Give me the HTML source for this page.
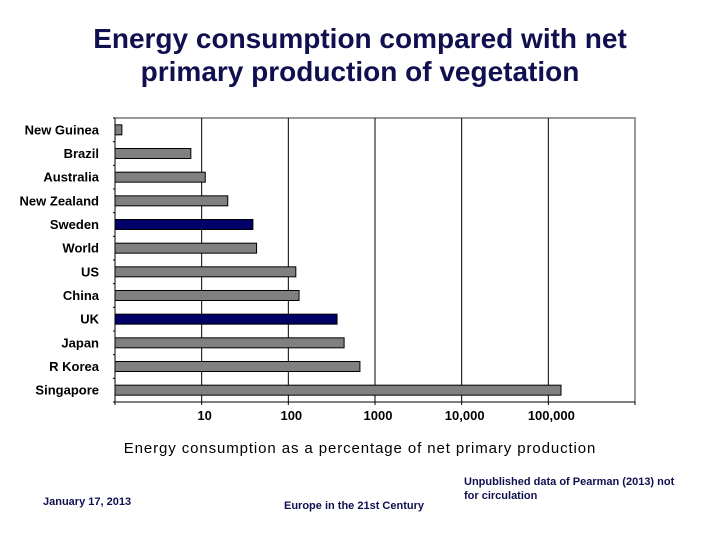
<!DOCTYPE html>
<html><head><meta charset="utf-8"><style>
body{margin:0;background:#fff;width:720px;height:540px;overflow:hidden;font-family:"Liberation Sans",Arial,sans-serif}
</style></head><body>
<svg width="720" height="540" xmlns="http://www.w3.org/2000/svg" font-family="Liberation Sans, Arial, sans-serif">
<text x="360" y="48" text-anchor="middle" font-size="28" font-weight="bold" fill="#101050">Energy consumption compared with net</text>
<text x="360" y="81" text-anchor="middle" font-size="28" font-weight="bold" fill="#101050">primary production of vegetation</text>
<g id="plot"></g>
<text x="360" y="453" text-anchor="middle" font-size="15" letter-spacing="0.9" fill="#000">Energy consumption as a percentage of net primary production</text>
<text x="43" y="505" font-size="11" font-weight="bold" fill="#101050">January 17, 2013</text>
<text x="284" y="509" font-size="11" font-weight="bold" fill="#101050">Europe in the 21st Century</text>
<text x="464" y="485" font-size="11" font-weight="bold" fill="#101050">Unpublished data of Pearman (2013) not</text>
<text x="464" y="499" font-size="11" font-weight="bold" fill="#101050">for circulation</text>
</svg>
<script>
const categories=["New Guinea","Brazil","Australia","New Zealand","Sweden","World","US","China","UK","Japan","R Korea","Singapore"];
const values=[1.2,7.5,11,20,39,43,122,133,365,440,670,140000];
const highlighted=["Sweden","UK"];
const tickValues=[10,100,1000,10000,100000];
const tickLabels=["10","100","1000","10,000","100,000"];
const NS="http://www.w3.org/2000/svg";
const g=document.getElementById('plot');
const L=115,R=635,T=118,B=402,minLog=0,maxLog=6;
const xs=v=>L+(Math.log10(v)-minLog)/(maxLog-minLog)*(R-L);
const band=(B-T)/categories.length;
function mk(tag,a){const e=document.createElementNS(NS,tag);for(const k in a)e.setAttribute(k,a[k]);g.appendChild(e);return e;}
let e=mk('path',{d:`M${L} ${T}H${R}V${B}`,stroke:'#999',fill:'none','stroke-width':2});


tickValues.forEach((v,i)=>{
 let l=mk('line',{x1:xs(v),x2:xs(v),y1:T,y2:B,stroke:'#000','stroke-width':1});
 
 
 let t=mk('text',{x:xs(v)+3,y:420,'text-anchor':'middle','font-size':13,'font-weight':'bold',fill:'#000'});
 t.textContent=tickLabels[i];
 
 
});
e=mk('line',{x1:L,x2:R,y1:B,y2:B,stroke:'#000','stroke-width':1});


e=mk('line',{x1:L,x2:L,y1:T,y2:B,stroke:'#000','stroke-width':1});


for(let i=0;i<=categories.length;i++){
 let k=mk('line',{x1:L-2,x2:L,y1:T+i*band,y2:T+i*band,stroke:'#000'});
 
 
}
[0,1,2,3,4,5,6].forEach(d=>{let k=mk('line',{x1:xs(Math.pow(10,d)),x2:xs(Math.pow(10,d)),y1:B,y2:B+3,stroke:'#000'});
 
 });
categories.forEach((c,i)=>{
 const cy=T+band*(i+0.5);
 const hl=highlighted.includes(c);
 let r=mk('rect',{x:L,y:cy-5,width:Math.max(0,xs(values[i])-L),height:10,fill:hl?'#000066':'#808080',stroke:'#000','stroke-width':1});
 
 
 let t=mk('text',{x:99,y:cy+4.5,'text-anchor':'end','font-size':13,'font-weight':'bold',fill:'#000'});
 t.textContent=c;
 
 
});
</script>
</body></html>
